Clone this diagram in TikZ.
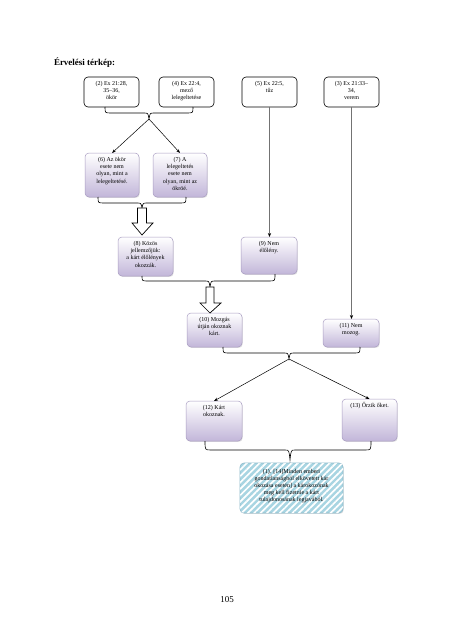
\documentclass[tikz,border=0pt]{standalone}
\usepackage{fontspec}
\setmainfont{Liberation Serif}
\usetikzlibrary{calc,arrows.meta,shadows,patterns.meta}
\definecolor{lav}{HTML}{C2B6D9}
\definecolor{lavb}{HTML}{A99DC2}
\definecolor{hblue}{HTML}{A8D5E2}
\definecolor{hbord}{HTML}{8DB9CB}
\newcommand\bt[4][8.5pt]{\parbox[c][#3][t]{#2}{\centering\rule{0pt}{#1}#4\par}}
\newcommand\curlybrace[4]{%
  \draw[brc] let \p1=(#1), \p2=(#2), \p3=(#3), \p4=($(#3)+(0,-#4)$) in
  (\p1) .. controls (\x1,\y4) .. (\x1+6pt,\y4) -- (\x3-5pt,\y4)
  .. controls (\x3-1pt,\y4) .. (\p3)
  .. controls (\x3+1pt,\y4) .. (\x3+5pt,\y4) -- (\x2-6pt,\y4)
  .. controls (\x2,\y4) .. (\p2);}
\begin{document}
\begin{tikzpicture}[x=1pt,y=-1pt,
  every node/.style={inner sep=0pt, outer sep=0pt},
  txt/.style={font=\fontsize{6}{7.2}\selectfont},
  wbox/.style={txt, draw=black, line width=0.6pt, fill=white, rounded corners=4pt},
  pbox/.style={txt, draw=lavb, line width=0.5pt, rounded corners=4pt, top color=white, bottom color=lav,
    drop shadow={shadow xshift=0.7pt,shadow yshift=-0.9pt,opacity=0.25}},
  hbox/.style={txt, draw=hbord, line width=0.6pt, rounded corners=4pt, fill=hblue,
    postaction={pattern={Lines[angle=45,distance=4.5pt,line width=1.7pt]}, pattern color=white},
    drop shadow={shadow xshift=0.7pt,shadow yshift=-0.9pt,opacity=0.25}},
  brc/.style={draw=black, line width=0.6pt},
  arr/.style={draw=black, line width=0.5pt, -{Stealth[length=4pt,width=3pt]}},
  vline/.style={draw=black!55, line width=1pt, -{Stealth[length=4pt,width=3.2pt,black]}},
  blk/.style={draw=black, line width=0.7pt, fill=white, line join=miter}
]
\useasboundingbox[fill=white] (0,0) rectangle (453,640);

\node[font=\fontsize{9}{10}\selectfont\bfseries, anchor=base west] (title) at (54,65) {Érvelési térkép:};

% top row
\node[wbox] (n2) at (111.5,92) {\bt{55pt}{30pt}{(2) Ex 21:28,\\35–36,\\ökör}};
\node[wbox] (n4) at (186.5,92) {\bt{55pt}{30pt}{(4) Ex 22:4,\\mező\\lelegeltetése}};
\node[wbox] (n5) at (269.5,92) {\bt{55pt}{30pt}{(5) Ex 22:5,\\tűz}};
\node[wbox] (n3) at (351.5,92) {\bt{55pt}{30pt}{(3) Ex 21:33–\\34,\\verem}};

% purple boxes
\node[pbox] (n6) at (112,175) {\bt{54pt}{44pt}{(6) Az ökör\\esete nem\\olyan, mint a\\lelegeltetésé.}};
\node[pbox] (n7) at (180,175) {\bt{54pt}{44pt}{(7) A\\lelegeltetés\\esete nem\\olyan, mint az\\ökröé.}};
\node[pbox] (n8) at (145.5,256.5) {\bt{55pt}{39pt}{(8) Közös\\jellemzőjük:\\a kárt élőlények\\okozzák.}};
\node[pbox] (n9) at (269,255.5) {\bt{56pt}{37pt}{(9) Nem\\élőlény.}};
\node[pbox] (n10) at (214.5,330) {\bt{55pt}{34pt}{(10) Mozgás\\útján okoznak\\kárt.}};
\node[pbox] (n11) at (351,333) {\bt{56pt}{28pt}{(11) Nem\\mozog.}};
\node[pbox] (n12) at (214,421) {\bt{56pt}{40pt}{(12) Kárt\\okoznak.}};
\node[pbox] (n13) at (369.5,420) {\bt{55pt}{42pt}{(13) Őrzik őket.}};

% conclusion
\node[hbox] (n1) at (291.5,488) {\bt[10pt]{103pt}{50pt}{(1). [14]Minden emberi\\gondatlanságból elkövetett kár\\okozása esetén] a károkozónak\\meg kell fizetnie a kárt\\tulajdonosának legjavából.}};

% brace tips
\coordinate (t1) at (149,119);
\coordinate (t2) at (142,208);
\coordinate (t3) at (210,287);
\coordinate (t4) at (289,359);
\coordinate (t5) at (290,460);

\curlybrace{[xshift=-6.5pt]n2.south}{[xshift=6.5pt]n4.south}{t1}{6}
\curlybrace{[xshift=-14pt]n6.south}{[xshift=6pt]n7.south}{t2}{5}
\curlybrace{[xshift=-3.5pt]n8.south}{[xshift=6pt]n9.south}{t3}{6}
\curlybrace{[xshift=8.5pt]n10.south}{[xshift=9pt]n11.south}{t4}{6}
\curlybrace{[xshift=-9pt]n12.south}{[xshift=1.5pt]n13.south}{t5}{10}

% arrows
\draw[arr] (t1) -- (n6.north);
\draw[arr] (t1) -- (n7.north);
\draw[arr] (t4) -- (n12.north);
\draw[arr] (t4) -- (n13.north);
\draw[vline] (n5.south) -- (n5.south |- n9.north);
\draw[vline] (n3.south) -- (n3.south |- n11.north);

% block arrows
\draw[blk] ($(t2)+(-4.5,0)$) -- ($(t2)+(-4.5,15)$) -- ($(t2)+(-10,15)$) -- ($(t2)+(0,27)$)
  -- ($(t2)+(11,15)$) -- ($(t2)+(4.5,15)$) -- ($(t2)+(4.5,0)$) -- cycle;
\draw[blk] ($(t3)+(-4,0)$) -- ($(t3)+(-4,16)$) -- ($(t3)+(-10,16)$) -- ($(t3)+(0,26)$)
  -- ($(t3)+(11,16)$) -- ($(t3)+(4,16)$) -- ($(t3)+(4,0)$) -- cycle;

\node[font=\fontsize{9}{10}\selectfont, anchor=base] (pg) at (227,602) {105};
\end{tikzpicture}
\end{document}
